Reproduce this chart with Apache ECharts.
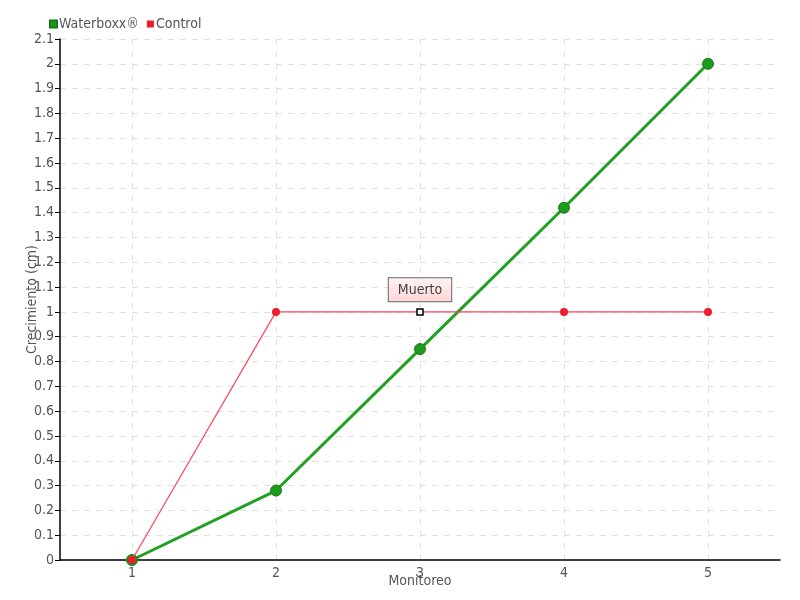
<!DOCTYPE html>
<html>
<head>
<meta charset="utf-8">
<script src="https://cdn.jsdelivr.net/npm/echarts@6/dist/echarts.min.js"></script>
<style>
  html, body { margin: 0; padding: 0; background: #fff; }
  #chart { width: 800px; height: 600px; }
</style>
</head>
<body>
<div id="chart"></div>
<script>
const monitoreo = ['1', '2', '3', '4', '5'];
const waterboxx = [0, 0.28, 0.85, 1.42, 2.0];
const control = [0, 1, 1, 1, 1];
const muertoIndex = 2;

const font = '"Liberation Sans Narrow", "DejaVu Sans Condensed", sans-serif';

let chart = echarts.init(document.getElementById('chart'));

chart.setOption({
  animation: false,
  textStyle: { fontFamily: font, color: '#555' },
  legend: {
    left: 44,
    top: 12,
    itemWidth: 7,
    itemHeight: 7,
    itemGap: 8,
    icon: 'rect',
    textStyle: { fontFamily: font, fontSize: 14, color: '#555', padding: [0, 0, 0, -3] },
    data: ['Waterboxx®', 'Control']
  },
  grid: { left: 60, right: 20, top: 39, bottom: 40, outerBoundsMode: 'none', containLabel: false },
  xAxis: {
    type: 'category',
    data: monitoreo,
    boundaryGap: true,
    name: 'Monitoreo',
    nameLocation: 'middle',
    nameGap: 14,
    nameMoveOverlap: false,
    nameTextStyle: { fontFamily: font, fontSize: 14, color: '#555' },
    axisLine: { lineStyle: { color: '#000', width: 1.5 } },
    axisTick: { alignWithLabel: true, length: 4, lineStyle: { color: '#000' } },
    axisLabel: { fontFamily: font, fontSize: 14, color: '#555', margin: 6 },
    splitLine: { show: true, alignWithLabel: true, lineStyle: { color: '#e0e0e0', type: [6, 6] } }
  },
  yAxis: {
    type: 'value',
    min: 0,
    max: 2.1,
    interval: 0.1,
    name: 'Crecimiento (cm)',
    nameLocation: 'middle',
    nameGap: 21,
    nameMoveOverlap: false,
    nameTextStyle: { fontFamily: font, fontSize: 14, color: '#555' },
    axisLine: { show: true, lineStyle: { color: '#000', width: 1.5 } },
    axisTick: { show: true, length: 5, lineStyle: { color: '#000' } },
    axisLabel: {
      fontFamily: font, fontSize: 14, color: '#555', margin: 6,
      formatter: v => String(Math.round(v * 10) / 10)
    },
    splitLine: { show: true, lineStyle: { color: '#e0e0e0', type: [6, 6] } }
  },
  series: [
    {
      name: 'Waterboxx®',
      type: 'line',
      data: waterboxx,
      color: '#1e9e1e',
      symbol: 'circle',
      symbolSize: 11,
      lineStyle: { width: 3, color: '#22a022' },
      itemStyle: { color: '#1e9a1e', borderColor: '#157a15', borderWidth: 1 },
      z: 2
    },
    {
      name: 'Control',
      type: 'line',
      data: control.map((v, i) => i === muertoIndex ? {
        value: v,
        symbol: 'rect',
        symbolSize: 6,
        itemStyle: { color: '#fff', borderColor: '#000', borderWidth: 1.5 },
        label: {
          show: true,
          position: 'top',
          distance: 7,
          formatter: 'Muerto',
          fontFamily: font,
          fontSize: 14,
          color: '#444',
          backgroundColor: {
            type: 'linear', x: 0, y: 0, x2: 0, y2: 1,
            colorStops: [{ offset: 0, color: '#fff4f4' }, { offset: 1, color: '#ffd6d6' }]
          },
          borderColor: '#666',
          borderWidth: 1,
          padding: [5, 9, 4, 9]
        }
      } : v),
      color: '#ee1c2c',
      symbol: 'circle',
      symbolSize: 8,
      lineStyle: { width: 1.2, color: '#ff4455' },
      itemStyle: { color: '#ee1c2c' },
      z: 3
    }
  ]
});

window.onresize = function () {
  chart.resize();
};
</script>
</body>
</html>
